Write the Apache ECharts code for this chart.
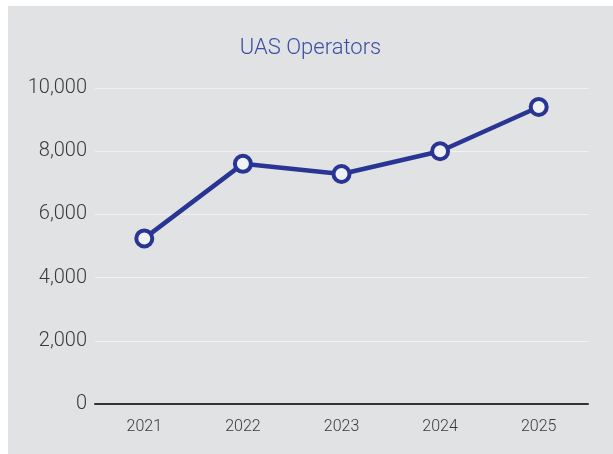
<!DOCTYPE html>
<html>
<head>
<meta charset="utf-8">
<script src="https://cdn.jsdelivr.net/npm/echarts@6/dist/echarts.min.js"></script>
<style>
  html, body { margin: 0; padding: 0; background: #ffffff; }
  #chart { position: absolute; left: 8px; top: 6px; width: 605px; height: 448px; }
</style>
</head>
<body>
<div id="chart"></div>
<script>
// data
const years = ['2021', '2022', '2023', '2024', '2025']
const operators = [5240, 7600, 7280, 8000, 9400]

var myChart = echarts.init(document.getElementById('chart'))
const option = {
    backgroundColor: '#e1e2e4',
    title: {
        text: 'UAS Operators',
        left: 'center',
        top: 26,
        textStyle: {
            color: '#3c4ea3',
            fontFamily: 'Roboto',
            fontWeight: 300,
            fontSize: 22
        }
    },
    grid: {
        left: 87,
        right: 25,
        top: 82,
        bottom: 50
    },
    xAxis: {
        type: 'category',
        data: years,
        boundaryGap: true,
        axisLine: { lineStyle: { color: '#333333', width: 2 } },
        axisTick: { show: false },
        axisLabel: {
            color: '#3a3a3a',
            fontFamily: 'Roboto',
            fontWeight: 300,
            fontSize: 16,
            margin: 15
        }
    },
    yAxis: {
        type: 'value',
        min: 0,
        max: 10000,
        interval: 2000,
        axisLine: { show: false },
        axisTick: { show: false },
        axisLabel: {
            color: '#3a3a3a',
            fontFamily: 'Roboto',
            fontWeight: 300,
            fontSize: 20,
            margin: 8,
            formatter: v => v.toLocaleString('en-US')
        },
        splitLine: { lineStyle: { color: '#f2f2f4', width: 1 } }
    },
    series: [
        {
            type: 'line',
            data: operators,
            symbol: 'circle',
            symbolSize: 16,
            lineStyle: { color: '#283593', width: 4.5 },
            itemStyle: { color: '#f0f1f4', borderColor: '#283593', borderWidth: 4 }
        }
    ]
}
myChart.setOption(option)
</script>
</body>
</html>
